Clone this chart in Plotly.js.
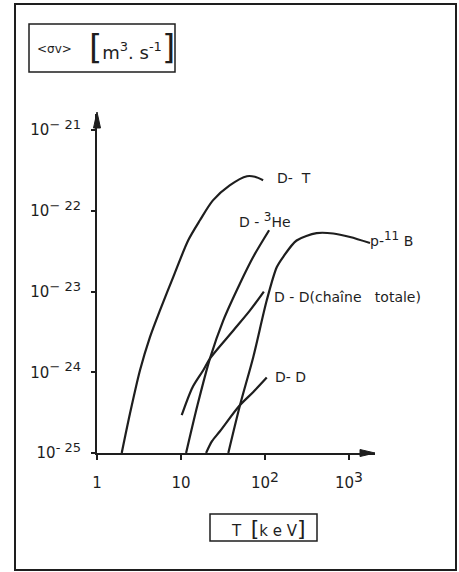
<!DOCTYPE html>
<html>
<head>
<meta charset="utf-8">
<script src="https://cdn.plot.ly/plotly-3.0.1.min.js"></script>
<style>
  html, body { margin: 0; padding: 0; background: #fff; }
  #plot { width: 459px; height: 572px; }
</style>
</head>
<body>
<div id="plot"></div>
<script>
// temperature T [keV] and reactivity <sigma v> [m^3/s]
const dtT    = [1.97, 2.47, 3.25, 4.27, 5.62, 8.1, 12.2, 16.8, 24, 38, 61, 76, 95];
const dtSv   = [1e-25, 3.08e-25, 1.06e-24, 2.73e-24, 5.86e-24, 1.52e-23, 4.33e-23, 7.65e-23, 1.35e-22, 2.07e-22, 2.69e-22, 2.65e-22, 2.4e-22];

const dhe3T  = [11.5, 15.7, 22.1, 31.9, 50.4, 72.6, 112];
const dhe3Sv = [1e-25, 3.9e-25, 1.48e-24, 4.4e-24, 1.26e-23, 2.7e-23, 5.75e-23];

const ddTotT  = [10.2, 13.7, 18.4, 22.1, 42, 66, 97];
const ddTotSv = [2.95e-25, 6.5e-25, 1.06e-24, 1.48e-24, 3.3e-24, 5.8e-24, 1.0e-23];

const ddT  = [19.9, 23.4, 29.1, 49, 72.6, 105];
const ddSv = [1e-25, 1.4e-25, 1.86e-25, 3.8e-25, 5.7e-25, 8.6e-25];

const pbT  = [36.6, 50.4, 72.6, 105, 138, 165, 238, 412, 650, 1030, 1780];
const pbSv = [1e-25, 3.9e-25, 1.55e-24, 7.8e-24, 2.0e-23, 2.7e-23, 4.3e-23, 5.3e-23, 5.25e-23, 4.75e-23, 4.0e-23];

const xTickVals = [1, 10, 100, 1000];
const xTickText = ['1', '10', '10<sup><span style="font-size:14px">2</span></sup>', '10<sup><span style="font-size:14px">3</span></sup>'];
const yTickVals = [1e-25, 1e-24, 1e-23, 1e-22, 1e-21];
const yTickExp  = ['- 25', '− 24', '− 23', '− 22', '− 21'];
const yTickText = yTickExp.map(e => '10<sup><span style="font-size:13px">' + e + '</span></sup>');

const ink = '#1e1e1e';
const font = 'DejaVu Sans, Liberation Sans, sans-serif';

// plot area in pixels
const plotL = 97, plotR = 375, plotT = 114, plotB = 453;
function px(x) { return (x - plotL) / (plotR - plotL); }
function py(y) { return (plotB - y) / (plotB - plotT); }

function curve(x, y) {
    return {
        x: x, y: y,
        mode: 'lines',
        line: {color: ink, width: 2.2, shape: 'spline', smoothing: 0.8},
        hoverinfo: 'skip',
        showlegend: false
    };
}

const data = [
    curve(dtT, dtSv),
    curve(dhe3T, dhe3Sv),
    curve(ddTotT, ddTotSv),
    curve(ddT, ddSv),
    curve(pbT, pbSv)
];

function label(x, y, text, size) {
    return {
        xref: 'paper', yref: 'paper',
        x: px(x), y: py(y),
        xanchor: 'left', yanchor: 'middle',
        text: text, showarrow: false,
        font: {family: font, size: size || 14, color: ink}
    };
}

function box(x0, y0, x1, y1, w) {
    return {
        type: 'rect', xref: 'paper', yref: 'paper',
        x0: px(x0), x1: px(x1), y0: py(y0), y1: py(y1),
        line: {color: ink, width: w || 1.5}
    };
}

function head(points) {
    let path = points.map((p, i) => (i ? 'L' : 'M') + px(p[0]) + ',' + py(p[1])).join(' ') + ' Z';
    return {
        type: 'path', xref: 'paper', yref: 'paper', path: path,
        fillcolor: ink, line: {color: ink, width: 1}
    };
}

const sup = (t, s) => '<sup><span style="font-size:' + s + 'px">' + t + '</span></sup>';
const big = (t, s) => '<span style="font-size:' + s + 'px">' + t + '</span>';

const layout = {
    width: 459,
    height: 572,
    margin: {l: plotL, r: 459 - plotR, t: plotT, b: 572 - plotB},
    paper_bgcolor: '#fff',
    plot_bgcolor: '#fff',
    font: {family: font, size: 15, color: ink},
    xaxis: {
        type: 'log',
        range: [0, 3.31],
        tickmode: 'array',
        tickvals: xTickVals,
        ticktext: xTickText,
        ticks: 'outside', ticklen: 5, tickwidth: 2, tickcolor: ink,
        ticklabelstandoff: 10,
        showline: true, linecolor: ink, linewidth: 2,
        showgrid: false, zeroline: false,
        fixedrange: true
    },
    yaxis: {
        type: 'log',
        range: [-25, -25 + (plotB - plotT) / 80.7],
        tickmode: 'array',
        tickvals: yTickVals,
        ticktext: yTickText,
        ticks: 'outside', ticklen: 4, tickwidth: 2, tickcolor: ink,
        ticklabelstandoff: 7,
        showline: true, linecolor: ink, linewidth: 2,
        showgrid: false, zeroline: false,
        fixedrange: true
    },
    shapes: [
        box(15, 4, 456, 570, 2),
        box(29, 24, 175, 72),
        box(210, 514, 317, 541),
        head([[375, 453], [360, 449.5], [360, 456.5]]),
        head([[97, 112], [93.5, 128], [100.5, 128]])
    ],
    annotations: [
        label(35, 49, '&lt;σv&gt;', 12),
        label(87, 47, big('[', 34) + 'm' + sup('3', 13) + '. s' + sup('-1', 13) + big(']', 34), 18),
        label(229, 528, 'T  ' + big('[', 22) + 'k e V' + big(']', 22), 15),
        label(275, 178, 'D-  T'),
        label(237, 220, 'D - ' + sup('3', 12) + 'He'),
        label(368, 239, 'p-' + sup('11', 12) + ' B'),
        label(272, 297, 'D - D(chaîne   totale)'),
        label(273, 377, 'D- D')
    ]
};

Plotly.newPlot('plot', data, layout, {displayModeBar: false, staticPlot: true});
</script>
</body>
</html>
